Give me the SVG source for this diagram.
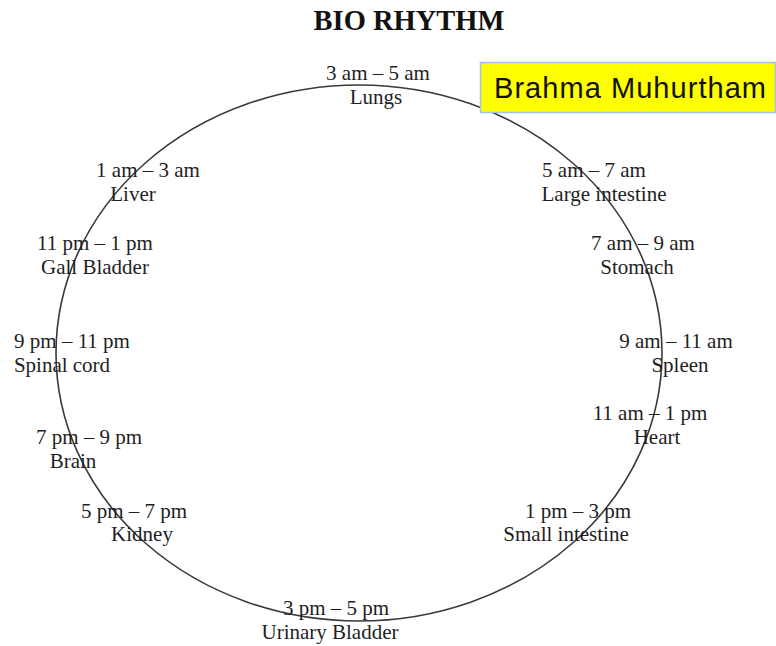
<svg xmlns="http://www.w3.org/2000/svg" width="776" height="646" viewBox="0 0 776 646">
<style>
.t{font-family:"Liberation Serif","Times New Roman",serif;font-size:21px;fill:#1e1e24;text-anchor:middle}
.ttl{font-family:"Liberation Serif","Times New Roman",serif;font-size:28.5px;font-weight:bold;fill:#111;text-anchor:middle}
.bm{font-family:"Liberation Sans",Arial,sans-serif;font-size:29px;fill:#111}
</style>
<rect width="776" height="646" fill="#fff"/>
<text class="ttl" x="409" y="30">BIO RHYTHM</text>
<g id="connectors">
<ellipse cx="359" cy="353" rx="303" ry="268" fill="none" stroke="#3a3a3a" stroke-width="1.6"/>
</g>
<g id="brahma">
<rect x="480.5" y="62.5" width="295" height="50" fill="#ffff00" stroke="#9dc3e6" stroke-width="1.5"/>
<text class="bm" x="494" y="98" textLength="272">Brahma Muhurtham</text>
</g>
<g id="lungs"><text class="t" x="378" y="80">3 am – 5 am</text><text class="t" x="376" y="104">Lungs</text></g>
<g id="liver"><text class="t" x="148" y="177">1 am – 3 am</text><text class="t" x="133" y="201">Liver</text></g>
<g id="gall"><text class="t" x="95" y="250">11 pm – 1 pm</text><text class="t" x="95" y="274">Gall Bladder</text></g>
<g id="spinal"><text class="t" x="72" y="348">9 pm – 11 pm</text><text class="t" x="62" y="372">Spinal cord</text></g>
<g id="brain"><text class="t" x="89" y="444">7 pm – 9 pm</text><text class="t" x="73" y="468">Brain</text></g>
<g id="kidney"><text class="t" x="134" y="518">5 pm – 7 pm</text><text class="t" x="142" y="541">Kidney</text></g>
<g id="large"><text class="t" x="594" y="177">5 am – 7 am</text><text class="t" x="604" y="201">Large intestine</text></g>
<g id="stomach"><text class="t" x="643" y="250">7 am – 9 am</text><text class="t" x="637" y="274">Stomach</text></g>
<g id="spleen"><text class="t" x="676" y="348">9 am – 11 am</text><text class="t" x="680" y="372">Spleen</text></g>
<g id="heart"><text class="t" x="650" y="420">11 am – 1 pm</text><text class="t" x="657" y="444">Heart</text></g>
<g id="small"><text class="t" x="578" y="518">1 pm – 3 pm</text><text class="t" x="566" y="541">Small intestine</text></g>
<g id="urinary"><text class="t" x="336" y="615">3 pm – 5 pm</text><text class="t" x="330" y="639">Urinary Bladder</text></g>
</svg>
